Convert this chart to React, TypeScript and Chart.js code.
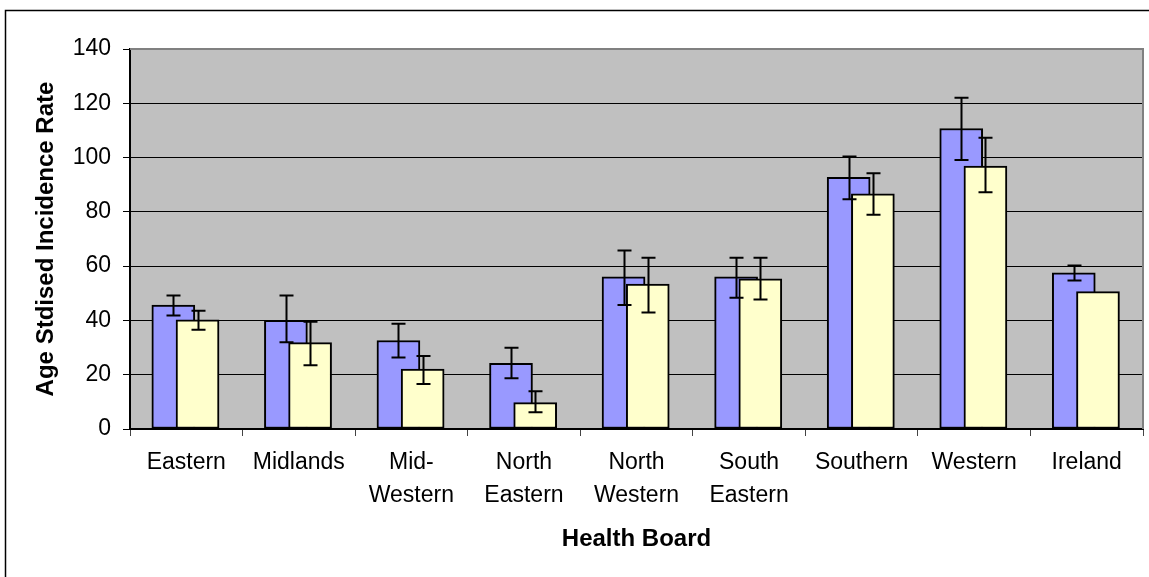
import React, { useEffect, useRef } from "react";
import { Chart, registerables } from "chart.js";

Chart.register(...registerables);

const categories: (string | string[])[] = [
  "Eastern",
  "Midlands",
  ["Mid-", "Western"],
  ["North", "Eastern"],
  ["North", "Western"],
  ["South", "Eastern"],
  "Southern",
  "Western",
  "Ireland",
];

const seriesA = [45.7, 40.0, 32.6, 24.2, 56.1, 56.1, 92.7, 110.7, 57.5];
const seriesAHigh = [49.2, 49.2, 38.8, 29.9, 65.8, 63.1, 100.4, 122.0, 60.2];
const seriesALow = [41.8, 32.0, 26.3, 18.7, 45.7, 48.4, 84.6, 99.1, 54.7];

const seriesB = [40.2, 31.8, 22.1, 9.7, 53.4, 55.3, 86.6, 96.9, 50.6];
const seriesBHigh: (number | null)[] = [43.6, 39.5, 26.9, 13.9, 63.1, 63.1, 94.2, 107.3, null];
const seriesBLow: (number | null)[] = [36.6, 23.5, 16.6, 6.2, 42.9, 47.7, 78.9, 87.2, null];

const yTicks = { min: 0, max: 140, step: 20 };

const SHIFT_A = -0.115;
const SHIFT_B = 0.1;

const FONT = "'Liberation Sans', Arial, sans-serif";

export default function App() {
  const ref = useRef<HTMLCanvasElement | null>(null);

  useEffect(() => {
    if (!ref.current) return;

    const bgPlugin = {
      id: "bgPlugin",
      beforeDraw(chart: any) {
        const { ctx, chartArea, width, height } = chart;
        ctx.save();
        ctx.fillStyle = "#ffffff";
        ctx.fillRect(0, 0, width, height);
        ctx.fillStyle = "#C0C0C0";
        ctx.fillRect(chartArea.left, chartArea.top, chartArea.right - chartArea.left, chartArea.bottom - chartArea.top);
        // outer frame
        ctx.strokeStyle = "#000";
        ctx.lineWidth = 1.5;
        ctx.beginPath();
        ctx.moveTo(5.5, height + 2);
        ctx.lineTo(5.5, 10.5);
        ctx.lineTo(width + 2, 10.5);
        ctx.stroke();
        ctx.restore();
      },
      afterDatasetsDraw(chart: any) {
        const { ctx, chartArea } = chart;
        const y = chart.scales.y;
        const errs = [
          [seriesALow, seriesAHigh],
          [seriesBLow, seriesBHigh],
        ];
        ctx.save();
        ctx.strokeStyle = "#000";
        ctx.lineWidth = 2;
        errs.forEach(([lo, hi], d) => {
          const meta = chart.getDatasetMeta(d);
          meta.data.forEach((el: any, i: number) => {
            const l = lo[i];
            const h = hi[i];
            if (l == null || h == null) return;
            const x = Math.round(el.x) + 0.5;
            const yl = y.getPixelForValue(l);
            const yh = y.getPixelForValue(h);
            ctx.beginPath();
            ctx.moveTo(x, yl);
            ctx.lineTo(x, yh);
            ctx.moveTo(x - 7, yl);
            ctx.lineTo(x + 7, yl);
            ctx.moveTo(x - 7, yh);
            ctx.lineTo(x + 7, yh);
            ctx.stroke();
          });
        });
        // plot border top & right
        ctx.strokeStyle = "#808080";
        ctx.lineWidth = 2;
        ctx.beginPath();
        ctx.moveTo(chartArea.left, chartArea.top);
        ctx.lineTo(chartArea.right, chartArea.top);
        ctx.lineTo(chartArea.right, chartArea.bottom);
        ctx.stroke();
        ctx.restore();
      },
    };

    const chart = new Chart(ref.current, {
      type: "bar",
      data: {
        labels: categories as any,
        datasets: [
          {
            label: "A",
            data: seriesA.map((v, i) => ({ x: i + SHIFT_A, y: v })),
            backgroundColor: "#9999FF",
            borderColor: "#000",
            borderWidth: 2,
            borderSkipped: false,
            barThickness: 43,
            grouped: false,
            xAxisID: "xl",
            order: 2,
          } as any,
          {
            label: "B",
            data: seriesB.map((v, i) => ({ x: i + SHIFT_B, y: v })),
            backgroundColor: "#FFFFCC",
            borderColor: "#000",
            borderWidth: 2,
            borderSkipped: false,
            barThickness: 43,
            grouped: false,
            xAxisID: "xl",
            order: 1,
          } as any,
        ],
      },
      options: {
        animation: false,
        responsive: true,
        maintainAspectRatio: false,
        devicePixelRatio: 1,
        layout: { padding: { left: 0, top: 49, right: 6, bottom: 0 } },
        plugins: {
          legend: { display: false },
          tooltip: { enabled: false },
          title: { display: false },
        },
        scales: {
          xl: {
            type: "linear",
            display: false,
            min: -0.5,
            max: categories.length - 0.5,
            offset: false,
          },
          x: {
            type: "category",
            position: "bottom",
            offset: true,
            afterFit(scale: any) {
              scale.height = 148;
            },
            grid: {
              offset: true,
              drawOnChartArea: false,
              drawTicks: true,
              tickLength: 7,
              color: "#444",
              lineWidth: 1,
            },
            border: { display: true, color: "#000", width: 2 },
            ticks: {
              font: { family: FONT, size: 23, lineHeight: 1.43 },
              color: "#000",
              padding: 10,
              maxRotation: 0,
              autoSkip: false,
            },
            title: {
              display: true,
              text: "Health Board",
              font: { family: FONT, size: 24, weight: "bold" },
              color: "#000",
              padding: { top: 0, bottom: 23 },
            },
          },
          y: {
            min: yTicks.min,
            max: yTicks.max,
            afterFit(scale: any) {
              scale.width = 130;
            },
            grid: {
              color: "#000",
              lineWidth: 1,
              tickLength: 7,
              drawTicks: true,
            },
            border: { display: true, color: "#000", width: 2 },
            ticks: {
              stepSize: yTicks.step,
              font: { family: FONT, size: 23 },
              color: "#000",
              padding: 12,
            },
            title: {
              display: true,
              text: "Age Stdised Incidence Rate",
              font: { family: FONT, size: 24, weight: "bold" },
              color: "#000",
              padding: { top: 32, bottom: 0 },
            },
          },
        },
      } as any,
      plugins: [bgPlugin],
    });

    return () => chart.destroy();
  }, []);

  return (
    <div style={{ position: "fixed", left: 0, top: 0, width: 1149, height: 577, background: "#fff" }}>
      <canvas ref={ref} />
    </div>
  );
}
